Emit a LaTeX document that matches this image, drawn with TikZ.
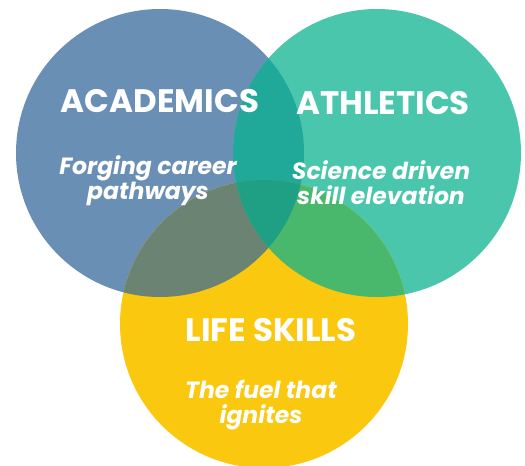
\documentclass[tikz,border=0pt]{standalone}
\usepackage{fontspec}
\setsansfont{Poppins}
\usetikzlibrary{positioning}
\definecolor{acadblue}{HTML}{6A8FB5}
\definecolor{athlgreen}{HTML}{4AC6AC}
\definecolor{lifeyellow}{HTML}{F9C80F}
\definecolor{acadathl}{HTML}{20A898}
\definecolor{acadlife}{HTML}{6B8372}
\definecolor{athllife}{HTML}{4AB86C}
\definecolor{allthree}{HTML}{1FA085}
\tikzset{
    heading/.style = {text=white, inner sep=0pt, font=\sffamily\bfseries\fontsize{32.5}{32}\selectfont},
    tagline/.style = {text=white, inner sep=0pt, align=center, font=\sffamily\bfseries\itshape\fontsize{23.5}{25}\selectfont},
}
\newcommand{\ringR}{144pt}

\begin{document}
\begin{tikzpicture}[x=1pt,y=-1pt]
\useasboundingbox (0,0) rectangle (525,466);
\coordinate (acad) at (160,153);
\coordinate (athl) at (377,153);
\coordinate (life) at (264,324);
%
\fill[acadblue] (acad) circle (\ringR);
\fill[athlgreen] (athl) circle (\ringR);
\fill[lifeyellow] (life) circle (\ringR);
% overlaps
\begin{scope}
\clip (acad) circle (\ringR);
\fill[acadathl] (athl) circle (\ringR);
\fill[acadlife] (life) circle (\ringR);
\end{scope}
\begin{scope}
\clip (athl) circle (\ringR);
\fill[athllife] (life) circle (\ringR);
\end{scope}
\begin{scope}
\clip (acad) circle (\ringR);
\clip (athl) circle (\ringR);
\fill[allthree] (life) circle (\ringR);
\end{scope}
%
\node[heading] (acadhead) at (160,101) {ACADEMICS};
\node[heading] (athlhead) at (383,103) {ATHLETICS};
\node[heading] (lifehead) at (271,330) {LIFE SKILLS};
\node[tagline] (acadtag) at (148,181) {Forging career\\pathways};
\node[tagline] (athltag) at (381,183) {Science driven\\skill elevation};
\node[tagline] (lifetag) at (261,405) {The fuel that\\ignites};

\end{tikzpicture}
\end{document}
